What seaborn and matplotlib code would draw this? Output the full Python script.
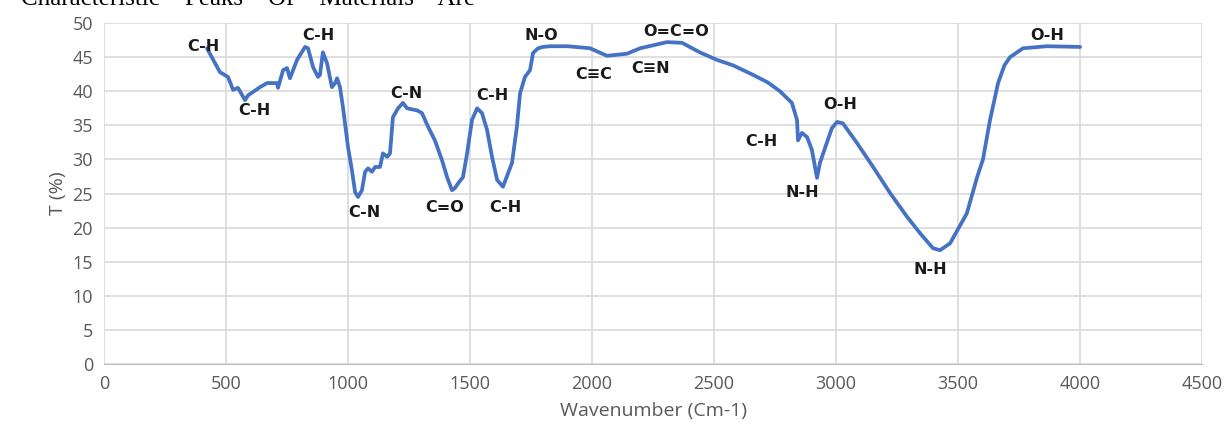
import matplotlib.pyplot as plt
import seaborn as sns
import pandas as pd

# FTIR spectrum
wavenumber = [422, 475, 508, 529, 549, 578, 590, 611, 639, 668, 709, 713, 734, 750, 762,
              791, 824, 836, 857, 877, 885, 897, 914, 934, 947, 955, 967, 979, 1000, 1016,
              1029, 1041, 1057, 1070, 1082, 1098, 1111, 1131, 1143, 1160, 1172, 1184, 1205,
              1225, 1242, 1283, 1303, 1328, 1356, 1385, 1406, 1426, 1438, 1451, 1471, 1488,
              1508, 1529, 1549, 1570, 1590, 1611, 1635, 1656, 1672, 1692, 1705, 1725, 1746,
              1758, 1779, 1799, 1828, 1900, 1992, 2061, 2143, 2197, 2307, 2369, 2442, 2512,
              2578, 2660, 2720, 2770, 2819, 2840, 2844, 2860, 2881, 2901, 2922, 2934, 2955,
              2983, 3004, 3028, 3086, 3152, 3221, 3291, 3344, 3397, 3426, 3467, 3536, 3578,
              3602, 3631, 3664, 3690, 3713, 3766, 3864, 4000]
transmittance = [46.3, 42.8, 42.1, 40.2, 40.5, 38.7, 39.4, 39.9, 40.6, 41.2, 41.2, 40.5, 43.1,
                 43.4, 41.9, 44.6, 46.5, 46.3, 43.5, 42.1, 42.4, 45.7, 44.1, 40.6, 41.2, 41.9,
                 40.6, 37.7, 31.8, 28.4, 25.2, 24.5, 25.5, 28.2, 28.7, 28.2, 28.9, 28.9, 30.9,
                 30.4, 30.9, 36.2, 37.5, 38.3, 37.5, 37.2, 36.8, 34.8, 32.8, 29.9, 27.4, 25.5,
                 25.8, 26.5, 27.4, 30.9, 35.8, 37.5, 36.8, 34.3, 30.4, 27.0, 26.0, 28.0, 29.5,
                 34.8, 39.7, 42.1, 43.1, 45.6, 46.3, 46.5, 46.6, 46.6, 46.3, 45.2, 45.5, 46.3,
                 47.2, 47.1, 45.7, 44.6, 43.8, 42.4, 41.3, 40.0, 38.3, 35.8, 32.8, 33.9, 33.3,
                 31.4, 27.3, 29.5, 31.7, 34.6, 35.5, 35.3, 32.4, 28.9, 25.1, 21.6, 19.2, 17.0,
                 16.7, 17.7, 22.1, 27.4, 30.0, 35.8, 41.2, 43.8, 45.0, 46.3, 46.6, 46.5]

# peak assignments
peak_labels = ["C-H", "C-H", "C-H", "C-N", "C-N", "C=O", "C-H", "C-H", "N-O", "C≡C",
               "C≡N", "O=C=O", "C-H", "O-H", "N-H", "N-H", "O-H"]
peak_x = [406, 615, 877, 1065, 1238, 1397, 1590, 1643, 1791, 2008,
          2238, 2344, 2692, 3016, 2860, 3385, 3864]
peak_y = [46.6, 37.2, 48.2, 22.3, 39.6, 22.9, 39.4, 22.9, 48.2, 42.4,
          43.3, 48.7, 32.6, 38.1, 25.2, 13.8, 48.2]

df = pd.DataFrame({"wavenumber": wavenumber, "T": transmittance})

sns.set_style("whitegrid", {"grid.color": "#d9d9d9", "axes.edgecolor": "#d9d9d9"})
plt.rcParams["font.family"] = ["Open Sans", "DejaVu Sans"]

fig = plt.figure(figsize=(12.31, 4.43), dpi=100)
ax = fig.add_axes([0.0845, 0.178, 0.892, 0.77])

sns.lineplot(data=df, x="wavenumber", y="T", color="#4472C4", linewidth=2.7, sort=False, ax=ax)

for lab, x, y in zip(peak_labels, peak_x, peak_y):
    ax.text(x, y, lab, fontsize=11.5, fontweight="bold", ha="center", va="center",
            color="#1a1a1a", family=["DejaVu Sans"])

ax.set_xlim(0, 4500)
ax.set_ylim(0, 50)
ax.set_xticks(range(0, 4501, 500))
ax.set_yticks(range(0, 51, 5))
ax.tick_params(labelsize=13, colors="#595959", length=0, pad=8)
ax.grid(True, color="#d9d9d9", linewidth=1.2)
for s in ["top", "right", "left"]:
    ax.spines[s].set_visible(False)
ax.spines["bottom"].set_color("#bfbfbf")

ax.set_xlabel("Wavenumber (Cm-1)", fontsize=14, color="#595959", labelpad=6)
ax.set_ylabel("T (%)", fontsize=14, color="#595959", labelpad=4)

# title line clipped at top of the picture, as in the source
fig.text(0.017, 1.003, "Characteristic    Peaks    Of    Materials    Are", fontsize=18,
         family=["Liberation Serif"], ha="left", va="center", color="black")

fig.savefig("out.png", dpi=100)
